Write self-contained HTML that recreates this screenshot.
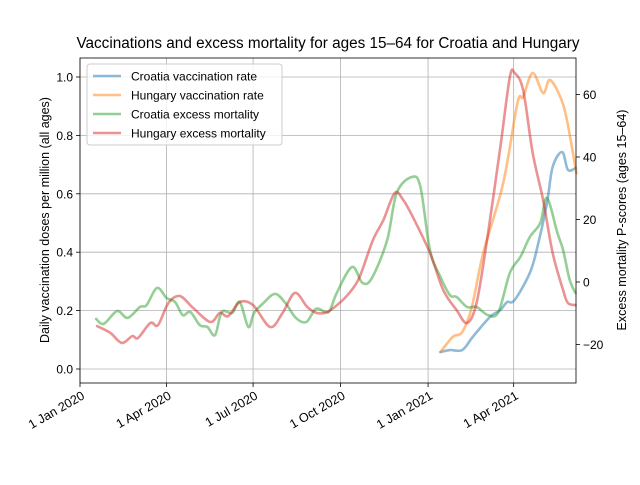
<!DOCTYPE html>
<html><head><meta charset="utf-8"><style>
body{margin:0;background:#fff}
svg text{font-family:"Liberation Sans","DejaVu Sans",sans-serif;fill:#000}
</style></head><body>
<svg id="chart" width="640" height="480" xmlns="http://www.w3.org/2000/svg">
<rect width="640" height="480" fill="#fff"/>
<g id="grid"></g>
<g id="series"></g>
<g id="axes"></g>
</svg>
<script>
const xTickLabels=["1 Jan 2020","1 Apr 2020","1 Jul 2020","1 Oct 2020","1 Jan 2021","1 Apr 2021"];
const xTickDays=[0,91,182,274,366,456];
const leftTicks=[0.0,0.2,0.4,0.6,0.8,1.0];
const rightTicks=[-20,0,20,40,60];
const croVaxDays=[379,389,402,413,431,442,449,457,473,481,491,497,507,513,521];
const croVax=[.058,.065,.065,.11,.178,.202,.229,.236,.329,.418,.568,.692,.743,.682,.688];
const hunVaxDays=[379,392,402,412,424,445,460,466,476,487,494,505,512,522];
const hunVax=[.058,.11,.127,.212,.397,.637,.911,.932,1.014,.945,.99,.932,.853,.671];
const croExDays=[17,25,39,50,63,70,81,91,100,108,116,126,134,142,149,160,168,177,183,193,205,216,227,238,248,258,263,270,286,297,307,323,333,349,358,368,379,389,396,407,417,429,440,452,463,473,484,491,502,508,515,521];
const croEx=[-11.8,-13.4,-9.3,-11.5,-8,-7.4,-1.9,-5.1,-6.4,-10.6,-9.6,-13.8,-14.4,-17,-9.6,-9.9,-6.4,-14.4,-9.9,-6.7,-3.8,-6.7,-11.5,-12.8,-8.6,-9.6,-9,-3.5,4.8,-0.3,1.3,13.4,28.5,33.6,30.4,10.2,1.6,-4.2,-4.8,-8,-8,-10.6,-9.6,2.9,8,14.4,18.9,26.9,15.7,10.2,0.6,-3.5];
const hunExDays=[18,32,44,55,61,74,82,93,105,119,137,147,156,168,182,200,213,226,239,249,260,273,284,294,308,319,331,340,350,368,382,396,407,417,428,442,452,457,466,476,487,497,508,513,521];
const hunEx=[-14.1,-16.3,-19.5,-17.3,-17.9,-13.1,-13.8,-6.7,-4.5,-8.3,-12.8,-9.9,-10.9,-6.4,-7.4,-14.4,-9.9,-3.5,-8,-9.9,-9.6,-6.7,-3.2,1.6,13.4,19.8,28.5,26.2,20.8,9.3,-2.6,-9,-13.1,-6.7,13.4,43.2,65.6,66.9,61.4,41.3,26.2,9.3,-2.6,-6.7,-7.4];

const L=80,R=576,T=58,B=383;
const X=d=>80+d*0.951;
const YL=v=>369-v*292;
const YR=v=>282-v*3.125;
const NS="http://www.w3.org/2000/svg";
function mk(tag,attrs,parent,txt){const e=document.createElementNS(NS,tag);for(const k in attrs)e.setAttribute(k,attrs[k]);if(txt!==undefined)e.textContent=txt;parent.appendChild(e);return e;}
const grid=document.getElementById('grid'),ser=document.getElementById('series'),ax=document.getElementById('axes');
xTickDays.forEach((d,i)=>{
 const g=mk('line',{x1:X(d),x2:X(d),y1:T,y2:B,stroke:'#b0b0b0','stroke-width':0.8},grid);
 
 
 const t=mk('line',{x1:X(d),x2:X(d),y1:B,y2:B+4,stroke:'#000','stroke-width':0.8},ax);
 
 
 const lb=mk('text',{x:X(d)+2,y:B+16,'font-size':12.6,'text-anchor':'end',transform:`rotate(-30 ${X(d)+2} ${B+9})`},ax,xTickLabels[i]);
 
 
});
leftTicks.forEach(v=>{
 const g=mk('line',{x1:L,x2:R,y1:YL(v),y2:YL(v),stroke:'#b0b0b0','stroke-width':0.8},grid);
 
 
 const t=mk('line',{x1:L-4,x2:L,y1:YL(v),y2:YL(v),stroke:'#000','stroke-width':0.8},ax);
 
 
 const lb=mk('text',{x:L-7,y:YL(v)+4.5,'font-size':12,'text-anchor':'end'},ax,v.toFixed(1));
 
 
});
rightTicks.forEach(v=>{
 const t=mk('line',{x1:R,x2:R+4,y1:YR(v),y2:YR(v),stroke:'#000','stroke-width':0.8},ax);
 
 
 const lb=mk('text',{x:R+7,y:YR(v)+4.5,'font-size':12},ax,v<0?'\u2212'+Math.abs(v):String(v));
 
 
});
function smooth(pts){let d=`M${pts[0][0]},${pts[0][1]}`;for(let i=0;i<pts.length-1;i++){const p0=pts[Math.max(0,i-1)],p1=pts[i],p2=pts[i+1],p3=pts[Math.min(pts.length-1,i+2)];const c1=[p1[0]+(p2[0]-p0[0])/6,p1[1]+(p2[1]-p0[1])/6],c2=[p2[0]-(p3[0]-p1[0])/6,p2[1]-(p3[1]-p1[1])/6];d+=`C${c1[0]},${c1[1]} ${c2[0]},${c2[1]} ${p2[0]},${p2[1]}`;}return d;}
function line(days,vals,yf,col,name){const p=mk('path',{d:smooth(days.map((d,i)=>[X(d),yf(vals[i])])),fill:'none',stroke:col,'stroke-width':2.6,'stroke-opacity':0.5,'stroke-linejoin':'round','stroke-linecap':'round'},ser);
 
 }
line(croVaxDays,croVax,YL,'#1f77b4','croatia-vaccination-line');
line(hunVaxDays,hunVax,YL,'#ff7f0e','hungary-vaccination-line');
line(croExDays,croEx,YR,'#2ca02c','croatia-excess-line');
line(hunExDays,hunEx,YR,'#d62728','hungary-excess-line');
const fr=mk('rect',{x:L,y:T,width:R-L,height:B-T,fill:'none',stroke:'#000','stroke-width':0.8},ax);


const ti=mk('text',{x:328,y:48,'font-size':15.3,'text-anchor':'middle'},ax,'Vaccinations and excess mortality for ages 15\u201364 for Croatia and Hungary');


const yl=mk('text',{x:49,y:220,'font-size':12.5,'text-anchor':'middle',transform:'rotate(-90 49 220)'},ax,'Daily vaccination doses per million (all ages)');


const yr=mk('text',{x:626,y:220,'font-size':12.5,'text-anchor':'middle',transform:'rotate(-90 626 220)'},ax,'Excess mortality P-scores (ages 15\u201364)');


const lg=mk('g',{},ax);


const lr=mk('rect',{x:87,y:64,width:195,height:81,rx:3,fill:'#fff','fill-opacity':0.8,stroke:'#ccc','stroke-width':1},lg);


const legNames=['Croatia vaccination rate','Hungary vaccination rate','Croatia excess mortality','Hungary excess mortality'];
const legCols=['#1f77b4','#ff7f0e','#2ca02c','#d62728'];
legNames.forEach((n,i)=>{const y=76+i*19;
 const e=mk('g',{},lg);
 
 
 mk('line',{x1:93,x2:121,y1:y,y2:y,stroke:legCols[i],'stroke-width':2.6,'stroke-opacity':0.5},e);
 mk('text',{x:131,y:y+4.5,'font-size':12},e,n);
});
</script>
</body></html>
